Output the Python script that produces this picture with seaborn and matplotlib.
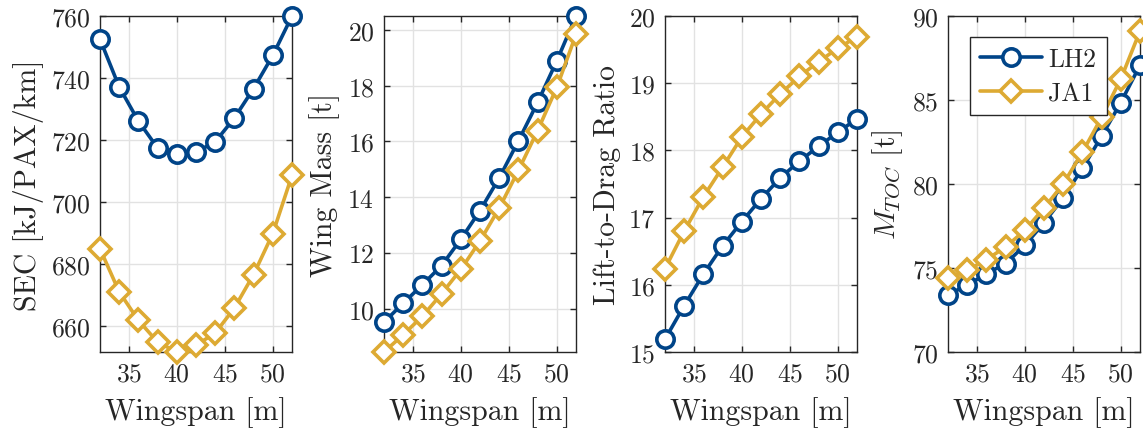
import matplotlib
matplotlib.use("Agg")
import matplotlib.pyplot as plt
import numpy as np
import pandas as pd
import seaborn as sns

# Wingspan sweep [m]
wingspan = [32, 34, 36, 38, 40, 42, 44, 46, 48, 50, 52]

# Specific energy consumption [kJ/PAX/km]
sec_lh2 = [752.5, 737.1, 726.1, 717.4, 715.6, 716.1, 719.4, 727.1, 736.6, 747.3, 760.0]
sec_ja1 = [684.9, 671.0, 661.8, 654.8, 651.6, 653.8, 657.7, 665.8, 676.6, 689.8, 708.6]

# Wing mass [t]
wing_lh2 = [9.52, 10.20, 10.86, 11.55, 12.49, 13.52, 14.69, 16.02, 17.40, 18.89, 20.50]
wing_ja1 = [8.45, 9.07, 9.73, 10.54, 11.41, 12.43, 13.61, 14.96, 16.39, 17.94, 19.84]

# Lift-to-drag ratio [-]
ld_lh2 = [15.19, 15.69, 16.16, 16.58, 16.94, 17.28, 17.59, 17.84, 18.06, 18.27, 18.47]
ld_ja1 = [16.24, 16.80, 17.31, 17.75, 18.20, 18.54, 18.84, 19.10, 19.32, 19.52, 19.69]

# Take-off mass [t]
mtoc_lh2 = [73.42, 73.97, 74.66, 75.26, 76.35, 77.69, 79.18, 80.93, 82.84, 84.85, 87.07]
mtoc_ja1 = [74.41, 74.86, 75.50, 76.25, 77.24, 78.57, 80.00, 81.89, 83.97, 86.25, 89.10]

fuels = ["LH2", "JA1"]
palette = {"LH2": "#004488", "JA1": "#DDAA33"}
markers = {"LH2": "o", "JA1": "D"}

sns.set_theme(style="white")
plt.rcParams["font.family"] = ["cmr10", "DejaVu Serif"]
plt.rcParams["mathtext.fontset"] = "cm"
plt.rcParams["axes.formatter.use_mathtext"] = True
plt.rcParams["axes.unicode_minus"] = False

panels = [
    ("SEC [kJ/PAX/km]", sec_lh2, sec_ja1, None, [660, 680, 700, 720, 740, 760]),
    ("Wing Mass [t]", wing_lh2, wing_ja1, None, [10, 12, 14, 16, 18, 20]),
    ("Lift-to-Drag Ratio", ld_lh2, ld_ja1, (15, 20), [15, 16, 17, 18, 19, 20]),
    (r"$M_{TOC}$ [t]", mtoc_lh2, mtoc_ja1, (70, 90), [70, 75, 80, 85, 90]),
]

fig = plt.figure(figsize=(11.43, 4.35), dpi=100)
lefts = [100, 384, 665, 948]
W, H = 1143, 435
ax_w = 192
bottom_px, top_px = 353, 17

tick_fs = 18.5
label_fs = 21.5
lw = 2.6
ms = 12.5
mew = 2.6

for i, (ylabel, y_lh2, y_ja1, ylim, yticks) in enumerate(panels):
    ax = fig.add_axes([lefts[i] / W, 1 - bottom_px / H, ax_w / W, (bottom_px - top_px) / H])
    df = pd.DataFrame({
        "Wingspan": wingspan * 2,
        "value": y_lh2 + y_ja1,
        "fuel": ["LH2"] * len(wingspan) + ["JA1"] * len(wingspan),
    })
    for fuel in fuels:
        sub = df[df["fuel"] == fuel]
        sns.lineplot(
            data=sub, x="Wingspan", y="value", ax=ax, color=palette[fuel],
            marker=markers[fuel], markersize=ms if fuel == "LH2" else ms * 0.92,
            markerfacecolor="white", markeredgecolor=palette[fuel],
            markeredgewidth=mew, linewidth=lw, label=fuel, clip_on=False,
            zorder=3,
        )
    ax.set_xlim(32, 52)
    if ylim is None:
        lo = min(min(y_lh2), min(y_ja1))
        hi = max(max(y_lh2), max(y_ja1))
        ax.set_ylim(lo, hi)
    else:
        ax.set_ylim(*ylim)
    ax.set_xticks([35, 40, 45, 50])
    ax.set_yticks(yticks)
    ax.grid(True, color="#e2e2e2", linewidth=1.0)
    ax.set_axisbelow(True)
    for s in ax.spines.values():
        s.set_color("#262626")
        s.set_linewidth(1.0)
        s.set_visible(True)
        s.set_zorder(2.5)
    ax.tick_params(direction="in", length=4, width=1, color="#262626",
                   top=True, right=True, bottom=True, left=True,
                   labelsize=tick_fs, labelcolor="#262626", pad=7)
    ax.set_xlabel("Wingspan [m]", fontsize=label_fs, color="#262626", labelpad=8)
    ax.set_ylabel(ylabel, fontsize=label_fs, color="#262626", labelpad=5)
    if i == 3:
        leg = ax.legend(loc="upper left", bbox_to_anchor=(22 / ax_w, 1 - 21 / 336),
                        borderaxespad=0, fontsize=tick_fs, frameon=True,
                        fancybox=False, framealpha=1, edgecolor="#262626",
                        handlelength=2.4, borderpad=0.4, labelspacing=0.4,
                        handletextpad=0.25)
        leg.get_frame().set_linewidth(1.0)
    else:
        ax.get_legend().remove() if ax.get_legend() else None

fig.savefig("out.png", dpi=100)
